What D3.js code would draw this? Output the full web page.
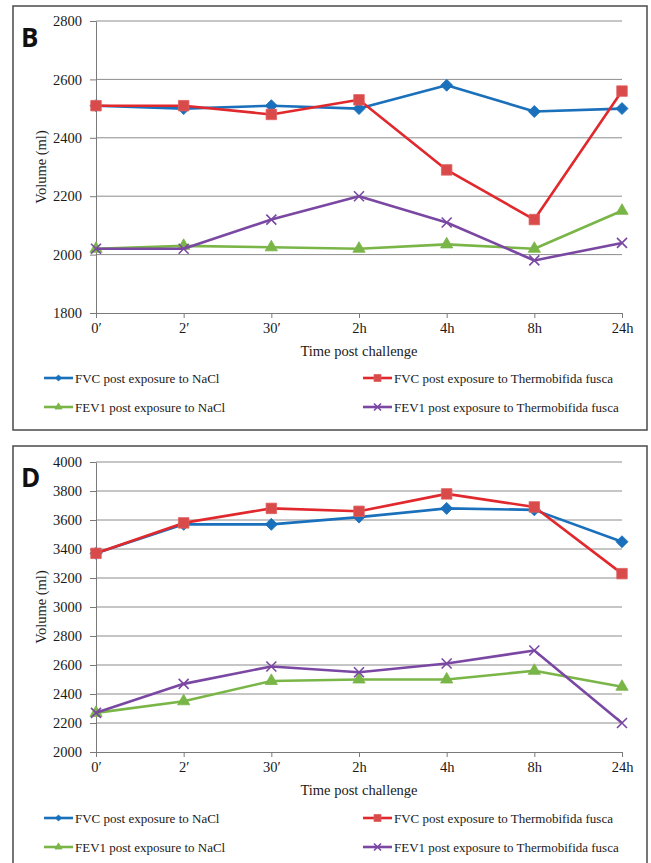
<!DOCTYPE html>
<html>
<head>
<meta charset="utf-8">
<script src="https://cdn.jsdelivr.net/npm/d3@7"></script>
<style>
  body { margin: 0; background: #fff; }
  svg { display: block; }
</style>
</head>
<body>
<svg id="chart"></svg>
<script>
// time points along the x axis
const timeLabels = ["0′", "2′", "30′", "2h", "4h", "8h", "24h"];

const seriesNames = [
  "FVC post exposure to NaCl",
  "FVC post exposure to Thermobifida fusca",
  "FEV1 post exposure to NaCl",
  "FEV1 post exposure to Thermobifida fusca"
];

// panel B
const fvcNaclB    = [2510, 2500, 2510, 2500, 2580, 2490, 2500];
const fvcThermoB  = [2510, 2510, 2480, 2530, 2290, 2120, 2560];
const fev1NaclB   = [2020, 2030, 2025, 2020, 2035, 2020, 2150];
const fev1ThermoB = [2020, 2020, 2120, 2200, 2110, 1980, 2040];
const yTicksB = [1800, 2000, 2200, 2400, 2600, 2800];

// panel D
const fvcNaclD    = [3370, 3570, 3570, 3620, 3680, 3670, 3450];
const fvcThermoD  = [3370, 3580, 3680, 3660, 3780, 3690, 3230];
const fev1NaclD   = [2270, 2350, 2490, 2500, 2500, 2560, 2450];
const fev1ThermoD = [2270, 2470, 2590, 2550, 2610, 2700, 2200];
const yTicksD = [2000, 2200, 2400, 2600, 2800, 3000, 3200, 3400, 3600, 3800, 4000];

const colors = ["#1a70ba", "#e0282d", "#7ab547", "#7a48a2"];
const markerFill = ["#1a70ba", "#d94a4a", "#7ab547", "none"];
const markerType = ["diamond", "square", "triangle", "x"];

const serif = "'Liberation Serif', 'Times New Roman', serif";

const svg = d3.select("#chart").attr("width", 651).attr("height", 863);
svg.append("rect").attr("width", 651).attr("height", 863).attr("fill", "#fff");

function drawMarker(g, type, cx, cy, s, color, fill) {
  if (type === "x") {
    const h = s / 2;
    g.append("path")
      .attr("d", `M${cx - h},${cy - h}L${cx + h},${cy + h}M${cx - h},${cy + h}L${cx + h},${cy - h}`)
      .attr("stroke", color).attr("stroke-width", 1.6).attr("fill", "none");
    return;
  }
  let sym = d3.symbolSquare, area = s * s, rot = 0;
  if (type === "diamond") { rot = 45; area = s * s * 0.5; }
  if (type === "triangle") { sym = d3.symbolTriangle; area = s * s * 0.45; }
  g.append("path")
    .attr("d", d3.symbol().type(sym).size(area)())
    .attr("transform", `translate(${cx},${cy}) rotate(${rot})`)
    .attr("fill", fill)
    .attr("stroke", type === "square" ? "#e06060" : color)
    .attr("stroke-width", 0.8);
}

class Panel {
  constructor(_config, _series) {
    this.config = {
      box: _config.box,
      plot: _config.plot,
      yDomain: _config.yDomain,
      yTicks: _config.yTicks,
      letter: _config.letter,
      legendY: _config.legendY
    };
    this.series = _series;
    this.initVis();
  }

  initVis() {
    let vis = this;
    const p = vis.config.plot;

    // panel frame
    svg.append("rect")
      .attr("x", vis.config.box[0]).attr("y", vis.config.box[1])
      .attr("width", vis.config.box[2] - vis.config.box[0])
      .attr("height", vis.config.box[3] - vis.config.box[1])
      .attr("fill", "none").attr("stroke", "#4a4a4a").attr("stroke-width", 1.5);

    vis.x = d3.scalePoint().domain(timeLabels).range([p.left, p.right]);
    vis.y = d3.scaleLinear().domain(vis.config.yDomain).range([p.bottom, p.top]);

    // gridlines
    svg.append("g")
      .selectAll("line")
      .data(vis.config.yTicks.slice(1))
      .join("line")
      .attr("x1", p.left).attr("x2", p.right)
      .attr("y1", d => vis.y(d)).attr("y2", d => vis.y(d))
      .attr("stroke", "#8c8c8c").attr("stroke-width", 1);

    // y axis
    const yAxisG = svg.append("g")
      .attr("transform", `translate(${p.left},0)`)
      .call(d3.axisLeft(vis.y).tickValues(vis.config.yTicks).tickFormat(d3.format("d"))
        .tickSize(6).tickPadding(8).tickSizeOuter(0));
    // x axis
    const xAxisG = svg.append("g")
      .attr("transform", `translate(0,${p.bottom})`)
      .call(d3.axisBottom(vis.x).tickSize(5).tickPadding(5).tickSizeOuter(0));

    [yAxisG, xAxisG].forEach(g => {
      g.attr("font-family", serif).attr("font-size", 14.5);
      g.selectAll("path.domain").attr("stroke", "#7a7a7a");
      g.selectAll(".tick line").attr("stroke", "#7a7a7a");
      g.selectAll("text").attr("fill", "#1a1a1a");
    });

    // axis titles
    svg.append("text")
      .attr("transform", `translate(46,${(p.top + p.bottom) / 2}) rotate(-90)`)
      .attr("text-anchor", "middle")
      .attr("font-family", serif)
      .attr("font-size", 14.5)
      .attr("fill", "#1a1a1a")
      .text("Volume (ml)");

    svg.append("text")
      .attr("x", (p.left + p.right) / 2)
      .attr("y", p.bottom + 43)
      .attr("text-anchor", "middle")
      .attr("font-family", serif)
      .attr("font-size", 14.5)
      .attr("fill", "#1a1a1a")
      .text("Time post challenge");

    // panel letter
    svg.append("text")
      .attr("x", 21).attr("y", vis.config.box[1] + 41)
      .attr("font-family", "'Open Sans', sans-serif")
      .attr("font-weight", "bold")
      .attr("font-size", 26)
      .attr("fill", "#111")
      .text(vis.config.letter);

    vis.updateVis();
  }

  updateVis() {
    let vis = this;
    const line = d3.line()
      .x((d, i) => vis.x(timeLabels[i]))
      .y(d => vis.y(d));

    vis.series.forEach((values, k) => {
      const g = svg.append("g");
      g.append("path")
        .datum(values)
        .attr("d", line)
        .attr("fill", "none")
        .attr("stroke", colors[k])
        .attr("stroke-width", 2.6)
        .attr("stroke-linejoin", "round");
      values.forEach((v, i) => {
        drawMarker(g, markerType[k], vis.x(timeLabels[i]), vis.y(v),
          markerType[k] === "square" ? 10.5 : (markerType[k] === "x" ? 10 : 12),
          colors[k], markerFill[k]);
      });
    });

    // legend: NaCl series on the left, Thermobifida on the right
    const legendPos = [
      [44, vis.config.legendY[0]],
      [363, vis.config.legendY[0]],
      [44, vis.config.legendY[1]],
      [363, vis.config.legendY[1]]
    ];
    seriesNames.forEach((name, k) => {
      const [lx, ly] = legendPos[k];
      const g = svg.append("g");
      g.append("line")
        .attr("x1", lx).attr("x2", lx + 29)
        .attr("y1", ly).attr("y2", ly)
        .attr("stroke", colors[k]).attr("stroke-width", 2.6);
      drawMarker(g, markerType[k], lx + 14.5, ly,
        markerType[k] === "diamond" ? 6 : 7, colors[k], markerFill[k]);
      g.append("text")
        .attr("x", lx + 31).attr("y", ly + 5)
        .attr("font-family", serif)
        .attr("font-size", 13)
        .attr("fill", "#1a1a1a")
        .text(name);
    });
  }
}

new Panel({
  box: [13, 6, 647, 430],
  plot: {left: 96, right: 622, top: 21, bottom: 313},
  yDomain: [1800, 2800],
  yTicks: yTicksB,
  letter: "B",
  legendY: [378, 407]
}, [fvcNaclB, fvcThermoB, fev1NaclB, fev1ThermoB]);

new Panel({
  box: [13, 446, 647, 880],
  plot: {left: 96, right: 622, top: 462, bottom: 752},
  yDomain: [2000, 4000],
  yTicks: yTicksD,
  letter: "D",
  legendY: [818, 847]
}, [fvcNaclD, fvcThermoD, fev1NaclD, fev1ThermoD]);
</script>
</body>
</html>
